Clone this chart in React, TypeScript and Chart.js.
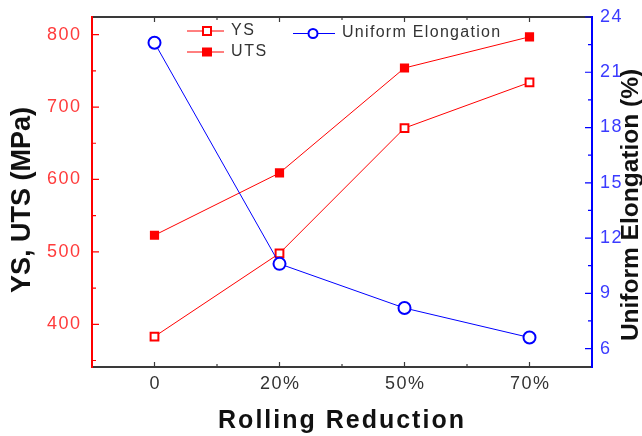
import React, { useEffect, useRef } from 'react';
import { Chart, registerables } from 'chart.js';

Chart.register(...registerables);

const categories = ['0', '20%', '50%', '70%'];
const ysValues = [383, 498, 671, 734];
const utsValues = [523, 609, 754, 797];
const elongationValues = [22.6, 10.6, 8.2, 6.6];
const leftTicks = [400, 500, 600, 700, 800];
const leftMinorTicks = [350, 450, 550, 650, 750];
const rightTicks = [6, 9, 12, 15, 18, 21, 24];
const rightMinorTicks = [7.5, 10.5, 13.5, 16.5, 19.5, 22.5];
const leftTitle = 'YS, UTS (MPa)';
const rightTitle = 'Uniform Elongation (%)';
const xTitle = 'Rolling Reduction';
const legendYS = 'YS';
const legendUTS = 'UTS';
const legendUE = 'Uniform Elongation';

const RED = '#ff0000';
const BLUE = '#0000ff';

function drawText(
  ctx: CanvasRenderingContext2D,
  text: string,
  x: number,
  y: number,
  align: 'left' | 'right' | 'center',
  font: string,
  color: string,
  spacing: number
) {
  ctx.save();
  ctx.font = font;
  (ctx as any).letterSpacing = spacing + 'px';
  ctx.fillStyle = color;
  ctx.textAlign = 'left';
  ctx.textBaseline = 'middle';
  const w = ctx.measureText(text).width - spacing;
  let sx = x;
  if (align === 'right') sx = x - w;
  else if (align === 'center') sx = x - w / 2;
  ctx.fillText(text, sx, y);
  ctx.restore();
}

function drawRotated(
  ctx: CanvasRenderingContext2D,
  text: string,
  cx: number,
  cy: number,
  font: string,
  color: string,
  spacing: number
) {
  ctx.save();
  ctx.translate(cx, cy);
  ctx.rotate(-Math.PI / 2);
  drawText(ctx, text, 0, 0, 'center', font, color, spacing);
  ctx.restore();
}

const decorPlugin = {
  id: 'decor',
  afterDatasetsDraw(chart: any) {
    const ctx: CanvasRenderingContext2D = chart.ctx;
    const { left, right, top, bottom } = chart.chartArea;
    const x = chart.scales.x;
    const y = chart.scales.y;
    const y2 = chart.scales.y2;
    const tickFont = '18px "Liberation Sans", Arial, sans-serif';

    ctx.save();
    // frame: top and bottom
    ctx.strokeStyle = '#3a3a3a';
    ctx.lineWidth = 2;
    ctx.beginPath();
    ctx.moveTo(left - 1, top);
    ctx.lineTo(right + 1, top);
    ctx.moveTo(left - 1, bottom);
    ctx.lineTo(right + 1, bottom);
    ctx.stroke();

    // x ticks (bottom and top), inward
    ctx.lineWidth = 1.2;
    ctx.beginPath();
    const xs = categories.map((_, i) => x.getPixelForValue(i));
    xs.forEach((px) => {
      ctx.moveTo(px, bottom);
      ctx.lineTo(px, bottom - 5);
      ctx.moveTo(px, top);
      ctx.lineTo(px, top + 5);
    });
    for (let i = 0; i < xs.length - 1; i++) {
      const m = (xs[i] + xs[i + 1]) / 2;
      ctx.moveTo(m, bottom);
      ctx.lineTo(m, bottom - 3);
      ctx.moveTo(m, top);
      ctx.lineTo(m, top + 3);
    }
    ctx.stroke();

    // left axis
    ctx.strokeStyle = RED;
    ctx.lineWidth = 2;
    ctx.beginPath();
    ctx.moveTo(left, top - 1);
    ctx.lineTo(left, bottom + 1);
    ctx.stroke();
    ctx.lineWidth = 1.2;
    ctx.beginPath();
    leftTicks.forEach((v) => {
      const py = y.getPixelForValue(v);
      ctx.moveTo(left, py);
      ctx.lineTo(left + 7, py);
    });
    leftMinorTicks.forEach((v) => {
      const py = y.getPixelForValue(v);
      ctx.moveTo(left, py);
      ctx.lineTo(left + 4, py);
    });
    ctx.stroke();

    // right axis
    ctx.strokeStyle = BLUE;
    ctx.lineWidth = 2;
    ctx.beginPath();
    ctx.moveTo(right, top - 1);
    ctx.lineTo(right, bottom + 1);
    ctx.stroke();
    ctx.lineWidth = 1.2;
    ctx.beginPath();
    rightTicks.forEach((v) => {
      const py = y2.getPixelForValue(v);
      ctx.moveTo(right, py);
      ctx.lineTo(right - 7, py);
    });
    rightMinorTicks.forEach((v) => {
      const py = y2.getPixelForValue(v);
      ctx.moveTo(right, py);
      ctx.lineTo(right - 4, py);
    });
    ctx.stroke();
    ctx.restore();

    // tick labels
    leftTicks.forEach((v) => {
      drawText(ctx, String(v), left - 12, y.getPixelForValue(v), 'right', tickFont, '#ff3b3b', 1.5);
    });
    rightTicks.forEach((v) => {
      drawText(ctx, String(v), right + 8, y2.getPixelForValue(v), 'left', tickFont, '#3b3bff', 1.5);
    });
    categories.forEach((c, i) => {
      drawText(ctx, c, xs[i], 384, 'center', tickFont, '#333333', 1.5);
    });

    // titles
    drawRotated(ctx, leftTitle, 23, 200, 'bold 27px "Liberation Sans", Arial, sans-serif', '#111111', 0);
    drawRotated(ctx, rightTitle, 631, 205, 'bold 24.5px "Liberation Sans", Arial, sans-serif', '#111111', 0);
    drawText(ctx, xTitle, 341, 421, 'center', 'bold 25px "Liberation Sans", Arial, sans-serif', '#111111', 2);

    // legend
    const legFont = '16px "Liberation Sans", Arial, sans-serif';
    ctx.save();
    ctx.lineWidth = 1;
    // YS
    ctx.strokeStyle = RED;
    ctx.beginPath();
    ctx.moveTo(187, 31);
    ctx.lineTo(224, 31);
    ctx.moveTo(187, 52);
    ctx.lineTo(224, 52);
    ctx.stroke();
    ctx.fillStyle = '#ffffff';
    ctx.fillRect(203, 27, 8, 8);
    ctx.lineWidth = 2;
    ctx.strokeRect(203, 27, 8, 8);
    ctx.fillStyle = RED;
    ctx.fillRect(202, 47.5, 10, 9);
    // UE
    ctx.strokeStyle = BLUE;
    ctx.lineWidth = 1;
    ctx.beginPath();
    ctx.moveTo(293, 33.5);
    ctx.lineTo(335, 33.5);
    ctx.stroke();
    ctx.fillStyle = '#ffffff';
    ctx.lineWidth = 2;
    ctx.beginPath();
    ctx.arc(313, 33.5, 4.5, 0, Math.PI * 2);
    ctx.fill();
    ctx.stroke();
    ctx.restore();
    drawText(ctx, legendYS, 231, 31, 'left', legFont, '#333333', 1.6);
    drawText(ctx, legendUTS, 231, 52, 'left', legFont, '#333333', 1.6);
    drawText(ctx, legendUE, 342, 33, 'left', legFont, '#333333', 1.3);
  },
};

export default function App() {
  const canvasRef = useRef<HTMLCanvasElement | null>(null);

  useEffect(() => {
    if (!canvasRef.current) return;
    const chart = new Chart(canvasRef.current, {
      type: 'line',
      data: {
        labels: categories,
        datasets: [
          {
            label: legendUE,
            data: elongationValues,
            yAxisID: 'y2',
            borderColor: BLUE,
            borderWidth: 1,
            pointStyle: 'circle',
            pointRadius: 6,
            pointBorderWidth: 2,
            pointBorderColor: BLUE,
            pointBackgroundColor: '#ffffff',
            tension: 0,
          },
          {
            label: legendYS,
            data: ysValues,
            yAxisID: 'y',
            borderColor: RED,
            borderWidth: 1,
            pointStyle: 'rect',
            pointRadius: 5.5,
            pointBorderWidth: 2,
            pointBorderColor: RED,
            pointBackgroundColor: '#ffffff',
            tension: 0,
          },
          {
            label: legendUTS,
            data: utsValues,
            yAxisID: 'y',
            borderColor: RED,
            borderWidth: 1,
            pointStyle: 'rect',
            pointRadius: 6.5,
            pointBorderWidth: 0,
            pointBorderColor: RED,
            pointBackgroundColor: RED,
            tension: 0,
          },
        ],
      },
      options: {
        animation: false,
        responsive: false,
        devicePixelRatio: 1,
        layout: { padding: { top: 17, left: 0, right: 0, bottom: 0 } },
        plugins: {
          legend: { display: false },
          tooltip: { enabled: false },
        },
        scales: {
          x: {
            type: 'category',
            offset: true,
            grid: { display: false },
            border: { display: false },
            ticks: { display: false },
            afterFit: (s: any) => {
              s.height = 69;
            },
          },
          y: {
            type: 'linear',
            position: 'left',
            min: 341,
            max: 824.4,
            grid: { display: false },
            border: { display: false },
            ticks: { display: false },
            afterFit: (s: any) => {
              s.width = 92;
            },
          },
          y2: {
            type: 'linear',
            position: 'right',
            min: 5,
            max: 24,
            grid: { display: false },
            border: { display: false },
            ticks: { display: false },
            afterFit: (s: any) => {
              s.width = 50;
            },
          },
        },
      },
      plugins: [decorPlugin],
    } as any);
    return () => chart.destroy();
  }, []);

  return (
    <div style={{ position: 'fixed', left: 0, top: 0, width: 642, height: 436, background: '#ffffff' }}>
      <canvas ref={canvasRef} width={642} height={436} />
    </div>
  );
}
